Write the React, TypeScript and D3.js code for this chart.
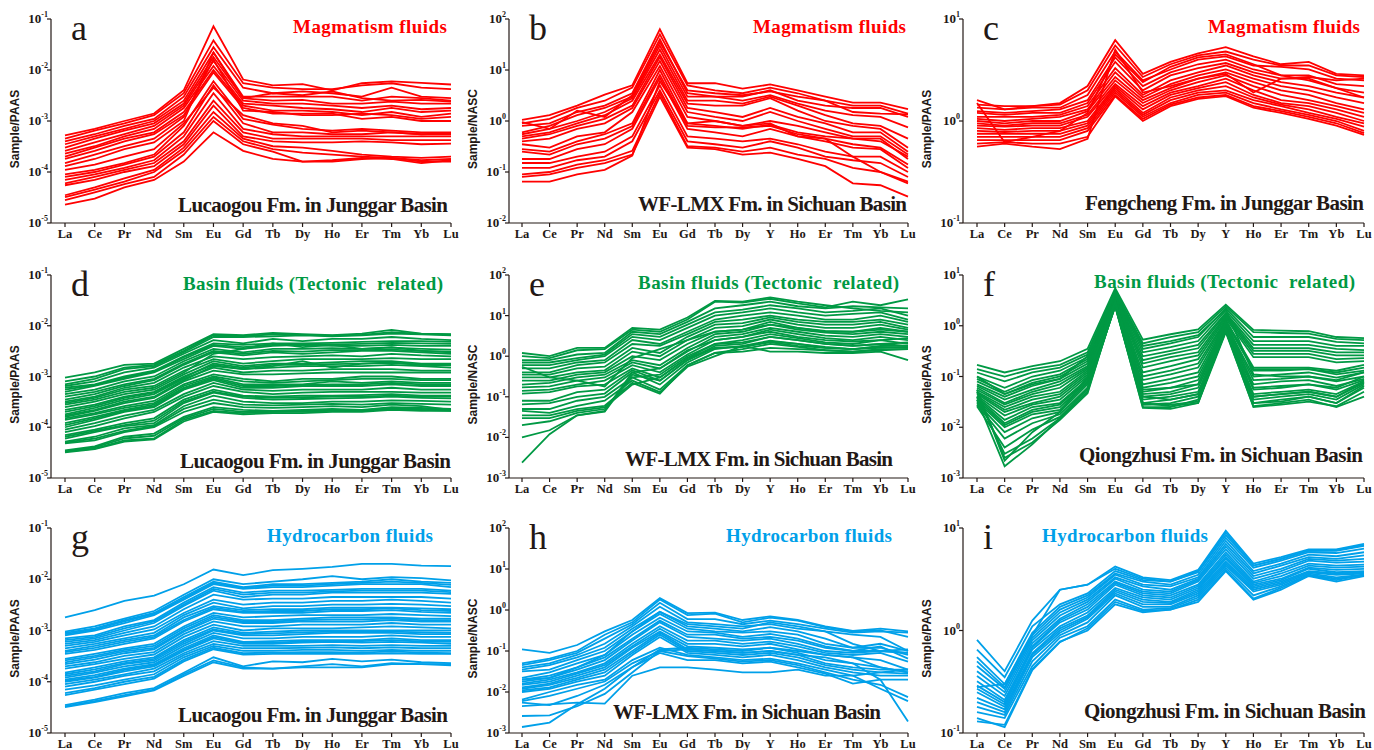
import React from 'react';
import * as d3 from 'd3';

// REE categories (with and without Y)
const REE14 = ['La', 'Ce', 'Pr', 'Nd', 'Sm', 'Eu', 'Gd', 'Tb', 'Dy', 'Ho', 'Er', 'Tm', 'Yb', 'Lu'];
const REE15 = ['La', 'Ce', 'Pr', 'Nd', 'Sm', 'Eu', 'Gd', 'Tb', 'Dy', 'Y', 'Ho', 'Er', 'Tm', 'Yb', 'Lu'];

const RED = '#ff0000';
const GREEN = '#009944';
const BLUE = '#00a0e9';
const INK = '#231815';

// a - magmatism fluids, Lucaogou Fm. (Sample/PAAS)
const magmaLucaogou = [
  [5.2e-4, 7e-4, 1e-3, 1.4e-3, 4e-3, 7.2e-2, 6.5e-3, 5e-3, 5.3e-3, 4e-3, 5.5e-3, 6e-3, 5.6e-3, 5.2e-3],
  [4.5e-4, 6.5e-4, 9e-4, 1.3e-3, 3.5e-3, 3.8e-2, 5.5e-3, 4.5e-3, 4.2e-3, 4.2e-3, 5e-3, 5.5e-3, 4.5e-3, 4.2e-3],
  [4e-4, 5.5e-4, 8e-4, 1.1e-3, 3e-3, 2.8e-2, 4.5e-3, 3.5e-3, 3.8e-3, 3.5e-3, 3e-3, 4.5e-3, 3e-3, 2.8e-3],
  [3.5e-4, 5e-4, 7e-4, 1e-3, 2.5e-3, 2.2e-2, 3e-3, 3e-3, 3e-3, 3e-3, 2.5e-3, 3e-3, 2.8e-3, 2.5e-3],
  [3e-4, 4.5e-4, 6.5e-4, 9e-4, 2.2e-3, 1.8e-2, 2.8e-3, 2.5e-3, 2.6e-3, 2.2e-3, 2.2e-3, 2.4e-3, 2.2e-3, 2.2e-3],
  [2.6e-4, 3.8e-4, 5.5e-4, 8e-4, 2e-3, 1.5e-2, 2.5e-3, 2.2e-3, 2.2e-3, 2e-3, 1.8e-3, 2e-3, 1.7e-3, 1.8e-3],
  [2.3e-4, 3.2e-4, 5e-4, 7e-4, 1.8e-3, 1.2e-2, 2.2e-3, 2e-3, 1.8e-3, 1.7e-3, 1.5e-3, 1.8e-3, 1.5e-3, 1.6e-3],
  [2e-4, 3e-4, 4.5e-4, 6e-4, 1.5e-3, 1e-2, 2e-3, 1.6e-3, 1.6e-3, 1.5e-3, 1.3e-3, 1.5e-3, 1.2e-3, 1.4e-3],
  [1.8e-4, 2.6e-4, 4e-4, 5.5e-4, 1.3e-3, 9e-3, 1.8e-3, 1.4e-3, 1.4e-3, 1.4e-3, 1.1e-3, 1.2e-3, 1e-3, 1e-3],
  [1.5e-4, 2.2e-4, 3.2e-4, 4.5e-4, 1.2e-3, 1.6e-2, 1.6e-3, 1.5e-3, 1.3e-3, 1.3e-3, 1.4e-3, 1.3e-3, 1.1e-3, 1.2e-3],
  [1.3e-4, 1.8e-4, 2.8e-4, 3.8e-4, 1e-3, 2.2e-2, 2.8e-3, 3.5e-3, 3.2e-3, 3.8e-3, 2.8e-3, 2.5e-3, 2.6e-3, 2.4e-3],
  [9e-5, 1.1e-4, 1.5e-4, 2.2e-4, 8e-4, 6e-3, 1.1e-3, 8.5e-4, 7e-4, 6.5e-4, 7e-4, 6.5e-4, 6e-4, 6e-4],
  [8e-5, 1e-4, 1.4e-4, 2e-4, 6e-4, 5e-3, 9e-4, 6e-4, 6e-4, 5.5e-4, 5.5e-4, 6e-4, 5.5e-4, 5.5e-4],
  [7e-5, 9e-5, 1.2e-4, 1.7e-4, 5e-4, 3.5e-3, 7e-4, 5.5e-4, 5e-4, 5e-4, 5e-4, 5e-4, 5e-4, 5e-4],
  [6e-5, 8e-5, 1.1e-4, 1.5e-4, 4e-4, 2.5e-3, 6e-4, 4.5e-4, 4.5e-4, 4.5e-4, 4.5e-4, 4.2e-4, 4.2e-4, 4.2e-4],
  [5.5e-5, 7e-5, 1e-4, 1.3e-4, 3.5e-4, 2e-3, 5e-4, 4e-4, 3.8e-4, 3.8e-4, 4e-4, 3.8e-4, 3.5e-4, 3.6e-4],
  [3.5e-5, 5e-5, 7.5e-5, 1.1e-4, 3e-4, 1.5e-3, 4.5e-4, 3.2e-4, 3e-4, 2.6e-4, 2.2e-4, 2e-4, 1.9e-4, 2e-4],
  [3.2e-5, 4.5e-5, 6.5e-5, 1e-4, 2.6e-4, 1.2e-3, 4e-4, 2.8e-4, 2.4e-4, 2.2e-4, 2e-4, 1.9e-4, 1.7e-4, 1.8e-4],
  [2.8e-5, 4e-5, 5.8e-5, 8e-5, 2.2e-4, 1e-3, 3.5e-4, 2.5e-4, 1.6e-4, 1.7e-4, 1.9e-4, 1.8e-4, 1.5e-4, 1.7e-4],
  [2.3e-5, 3e-5, 5e-5, 7e-5, 1.6e-4, 6e-4, 2.6e-4, 1.8e-4, 1.6e-4, 1.6e-4, 1.8e-4, 1.9e-4, 1.6e-4, 1.6e-4],
  [1.1e-4, 1.4e-4, 2e-4, 2.8e-4, 9e-4, 4.5e-3, 1.3e-3, 9e-4, 8e-4, 6e-4, 6.5e-4, 6e-4, 5.5e-4, 5.8e-4],
];

// b - magmatism fluids, WF-LMX Fm. (Sample/NASC)
const magmaWfLmx = [
  [1.05, 1.3, 2, 3.3, 5, 63, 5.5, 5.5, 4.3, 5.2, 4, 3, 2.3, 2.3, 1.7],
  [0.9, 1.1, 1.8, 2.5, 4.5, 50, 5, 4, 3.5, 4.5, 3.5, 2.5, 2, 2, 1.4],
  [0.8, 0.9, 1.5, 2, 3.5, 40, 3.5, 3, 3, 4, 2.5, 2, 1.8, 1.8, 1.2],
  [0.6, 0.8, 1.3, 1.8, 3, 30, 3, 3, 2.5, 3.2, 2.2, 1.6, 1.3, 1.2, 0.75],
  [0.55, 0.7, 1, 1.5, 2.8, 25, 2.5, 2.5, 2.2, 3, 2, 1.3, 0.9, 0.8, 0.45],
  [0.5, 0.6, 0.9, 1.3, 2.5, 20, 2.2, 2, 2, 2.8, 1.6, 1, 0.8, 0.7, 0.3],
  [0.45, 0.55, 0.8, 1.1, 2, 18, 1.8, 1.5, 1.2, 1.8, 1.2, 0.9, 0.6, 0.6, 0.25],
  [0.4, 0.45, 0.7, 0.9, 1.8, 15, 1.5, 1.2, 1, 1.5, 1, 0.7, 0.5, 0.5, 0.22],
  [0.35, 0.3, 0.5, 0.6, 1.5, 12, 1.2, 1, 0.8, 1, 0.8, 0.6, 0.45, 0.4, 0.2],
  [0.28, 0.25, 0.4, 0.55, 0.9, 10, 0.9, 0.8, 0.7, 0.85, 0.6, 0.5, 0.45, 0.45, 0.18],
  [0.25, 0.22, 0.35, 0.45, 0.8, 8, 0.8, 0.75, 0.75, 0.8, 0.55, 0.45, 0.35, 0.3, 0.14],
  [0.18, 0.18, 0.28, 0.35, 0.7, 7, 0.7, 0.6, 0.5, 0.7, 0.5, 0.4, 0.3, 0.28, 0.12],
  [0.15, 0.15, 0.2, 0.25, 0.5, 5, 0.5, 0.45, 0.4, 0.45, 0.35, 0.25, 0.2, 0.2, 0.1],
  [0.12, 0.12, 0.17, 0.2, 0.4, 4, 0.4, 0.35, 0.3, 0.4, 0.3, 0.2, 0.17, 0.15, 0.08],
  [0.09, 0.1, 0.14, 0.17, 0.26, 3.5, 0.32, 0.3, 0.25, 0.3, 0.22, 0.18, 0.12, 0.1, 0.065],
  [0.08, 0.09, 0.12, 0.15, 0.22, 3, 0.3, 0.28, 0.22, 0.24, 0.18, 0.13, 0.06, 0.055, 0.033],
  [0.065, 0.065, 0.09, 0.11, 0.21, 6, 0.9, 1, 0.8, 0.9, 0.5, 0.45, 0.2, 0.1, 0.06],
  [0.95, 0.7, 1.6, 1.2, 3.2, 35, 4, 3.5, 3.2, 3.8, 3, 2.5, 1.5, 1.4, 1.35],
];

// c - magmatism fluids, Fengcheng Fm. (Sample/PAAS)
const magmaFengcheng = [
  [1.6, 1.3, 1.4, 1.5, 2.2, 6.2, 2.9, 3.8, 4.6, 5.3, 4.3, 3.6, 3.8, 2.9, 2.8],
  [1.45, 1.4, 1.4, 1.45, 2, 5.5, 2.7, 3.6, 4.4, 4.8, 4, 3.5, 3.5, 2.8, 2.7],
  [1.35, 1.3, 1.35, 1.35, 1.8, 4.8, 2.5, 3.2, 4, 4.3, 3.5, 3.4, 3.2, 2.6, 2.5],
  [1.25, 1.2, 1.25, 1.3, 1.6, 4.2, 2.2, 3, 3.6, 4, 3.2, 2.8, 2.8, 2.3, 2.2],
  [1.2, 1.15, 1.2, 1.2, 1.5, 3.8, 2, 2.8, 3.3, 3.7, 3, 2.6, 2.6, 2.1, 1.9],
  [1.1, 1.1, 1.1, 1.15, 1.4, 3.3, 1.8, 2.5, 3, 3.5, 2.8, 2.4, 2.2, 1.9, 1.7],
  [1.05, 1, 1.05, 1.1, 1.3, 3, 1.7, 2.3, 2.8, 3.2, 2.6, 2.2, 2, 1.7, 1.5],
  [1, 0.95, 1, 1, 1.25, 2.7, 1.6, 2.1, 2.6, 3, 2.4, 2, 1.8, 1.5, 1.3],
  [0.95, 0.9, 0.95, 0.95, 1.15, 2.5, 1.5, 2, 2.4, 2.8, 2.2, 1.8, 1.6, 1.4, 1.2],
  [0.9, 0.88, 0.9, 0.9, 1.1, 2.3, 1.4, 1.9, 2.2, 2.6, 2, 1.6, 1.5, 1.3, 1.1],
  [0.85, 0.82, 0.85, 0.85, 1, 2.2, 1.3, 1.8, 2.1, 2.4, 1.8, 1.5, 1.4, 1.2, 1],
  [0.8, 0.78, 0.8, 0.8, 0.95, 2.1, 1.2, 1.7, 2, 2.2, 1.7, 1.45, 1.3, 1.1, 0.95],
  [0.75, 0.75, 0.75, 0.75, 0.9, 2, 1.15, 1.6, 1.9, 2, 1.6, 1.4, 1.2, 1.05, 0.88],
  [0.7, 0.7, 0.7, 0.7, 0.85, 1.9, 1.1, 1.5, 1.8, 1.9, 1.5, 1.3, 1.15, 1, 0.8],
  [0.65, 0.65, 0.65, 0.65, 0.8, 1.8, 1.05, 1.45, 1.7, 1.8, 1.4, 1.25, 1.1, 0.95, 0.76],
  [0.6, 0.62, 0.6, 0.6, 0.7, 1.75, 1.0, 1.4, 1.65, 1.75, 1.35, 1.2, 1.05, 0.9, 0.73],
  [0.56, 0.6, 0.56, 0.53, 0.67, 5, 1.9, 2.2, 2.6, 2.9, 1.9, 2.6, 2.7, 2.5, 2.6],
  [1.5, 0.62, 0.7, 0.8, 1.2, 4.5, 2.4, 3.4, 4.2, 4.5, 3.6, 2.8, 2.5, 2.1, 1.7],
];

// d - basin fluids, Lucaogou Fm. (Sample/PAAS)
const basinLucaogou = [
  [9.5e-4, 1.2e-3, 1.7e-3, 1.8e-3, 3.5e-3, 6.8e-3, 6.5e-3, 7.2e-3, 6.8e-3, 6.5e-3, 7e-3, 8.3e-3, 7e-3, 6.8e-3],
  [8e-4, 1e-3, 1.5e-3, 1.7e-3, 3.2e-3, 6.5e-3, 6.2e-3, 6.8e-3, 6.6e-3, 6.4e-3, 6.6e-3, 7.5e-3, 6.9e-3, 6.7e-3],
  [7e-4, 9e-4, 1.4e-3, 1.6e-3, 3e-3, 6e-3, 6e-3, 6.2e-3, 6.5e-3, 6.2e-3, 6.5e-3, 7e-3, 6.8e-3, 6.5e-3],
  [6.5e-4, 8e-4, 1.2e-3, 1.5e-3, 2.8e-3, 5.2e-3, 4.5e-3, 5.5e-3, 5e-3, 5.5e-3, 5.5e-3, 6e-3, 5.5e-3, 5.2e-3],
  [6e-4, 7e-4, 1e-3, 1.3e-3, 2.5e-3, 4.5e-3, 4.2e-3, 4.5e-3, 4.5e-3, 4.6e-3, 4.8e-3, 5e-3, 5e-3, 4.8e-3],
  [5.5e-4, 6.8e-4, 9.5e-4, 1.25e-3, 2.4e-3, 4.2e-3, 3.8e-3, 4.2e-3, 4.3e-3, 4.3e-3, 4.4e-3, 4.6e-3, 4.5e-3, 4.4e-3],
  [5e-4, 6.5e-4, 9e-4, 1.2e-3, 2.2e-3, 4e-3, 3.5e-3, 4e-3, 4.2e-3, 4e-3, 4e-3, 4.2e-3, 4e-3, 4e-3],
  [4.5e-4, 5.5e-4, 8e-4, 1e-3, 2e-3, 3.5e-3, 3e-3, 3.5e-3, 3.5e-3, 3.6e-3, 3.5e-3, 3.7e-3, 3.5e-3, 3.4e-3],
  [4e-4, 5e-4, 7e-4, 9e-4, 1.8e-3, 3.2e-3, 2.8e-3, 3.2e-3, 3.1e-3, 3.3e-3, 3.3e-3, 3.4e-3, 3.2e-3, 3.1e-3],
  [3.5e-4, 4.5e-4, 6.5e-4, 8.5e-4, 1.7e-3, 3e-3, 2.6e-3, 3e-3, 2.8e-3, 3e-3, 3.2e-3, 3.2e-3, 3e-3, 2.8e-3],
  [3.2e-4, 4e-4, 6e-4, 7.5e-4, 1.5e-3, 2.5e-3, 2.2e-3, 2.4e-3, 2.5e-3, 2.6e-3, 2.5e-3, 2.8e-3, 2.6e-3, 2.5e-3],
  [3e-4, 3.8e-4, 5.5e-4, 6.5e-4, 1.3e-3, 2.2e-3, 1.8e-3, 2e-3, 2.2e-3, 2.2e-3, 2.2e-3, 2.3e-3, 2.2e-3, 2.2e-3],
  [2.5e-4, 3.2e-4, 4.5e-4, 5.5e-4, 1.1e-3, 2e-3, 1.6e-3, 1.8e-3, 1.8e-3, 1.9e-3, 2e-3, 2e-3, 1.8e-3, 1.8e-3],
  [2.2e-4, 2.8e-4, 4e-4, 5e-4, 1e-3, 1.7e-3, 1.4e-3, 1.5e-3, 1.6e-3, 1.6e-3, 1.6e-3, 1.7e-3, 1.6e-3, 1.5e-3],
  [2e-4, 2.6e-4, 3.8e-4, 4.8e-4, 9.5e-4, 1.8e-3, 1.5e-3, 1.7e-3, 1.7e-3, 1.75e-3, 1.8e-3, 1.85e-3, 1.7e-3, 1.65e-3],
  [1.8e-4, 2.4e-4, 3.5e-4, 4.5e-4, 9e-4, 1.5e-3, 1.2e-3, 1.3e-3, 1.3e-3, 1.4e-3, 1.4e-3, 1.4e-3, 1.3e-3, 1.3e-3],
  [1.6e-4, 2.1e-4, 3e-4, 3.8e-4, 8e-4, 1.3e-3, 1.1e-3, 1.1e-3, 1.15e-3, 1.2e-3, 1.2e-3, 1.2e-3, 1.2e-3, 1.2e-3],
  [1.5e-4, 1.9e-4, 2.6e-4, 3.3e-4, 7e-4, 1.1e-3, 9e-4, 8e-4, 9e-4, 9e-4, 1e-3, 1e-3, 9e-4, 9e-4],
  [1.4e-4, 1.8e-4, 2.4e-4, 3e-4, 6.5e-4, 1e-3, 8e-4, 7.5e-4, 8e-4, 8.5e-4, 9e-4, 9e-4, 8.5e-4, 8.5e-4],
  [1.2e-4, 1.6e-4, 2.2e-4, 2.8e-4, 6e-4, 9.5e-4, 7e-4, 7e-4, 7e-4, 8e-4, 7.5e-4, 8e-4, 7.5e-4, 7.5e-4],
  [1.1e-4, 1.5e-4, 2.1e-4, 2.6e-4, 5.8e-4, 9e-4, 6.5e-4, 6.5e-4, 6.8e-4, 7e-4, 7e-4, 7.5e-4, 7e-4, 7e-4],
  [1e-4, 1.4e-4, 2e-4, 2.5e-4, 5.5e-4, 8.5e-4, 6e-4, 6e-4, 6.5e-4, 6.5e-4, 6.5e-4, 7e-4, 6.5e-4, 6.5e-4],
  [9e-5, 1.2e-4, 1.7e-4, 2.2e-4, 4.5e-4, 7.5e-4, 5.5e-4, 5.2e-4, 5.5e-4, 5.5e-4, 5.5e-4, 6e-4, 5.5e-4, 5.5e-4],
  [8e-5, 1.05e-4, 1.5e-4, 2e-4, 4e-4, 6.5e-4, 5e-4, 4.5e-4, 4.8e-4, 5e-4, 5e-4, 5e-4, 4.8e-4, 4.8e-4],
  [7e-5, 9e-5, 1.2e-4, 1.5e-4, 3.5e-4, 5.5e-4, 4.2e-4, 4e-4, 4.2e-4, 4.2e-4, 4.3e-4, 4.5e-4, 4.2e-4, 4.2e-4],
  [6.5e-5, 8.5e-5, 1.1e-4, 1.35e-4, 3.2e-4, 5e-4, 4e-4, 3.8e-4, 3.9e-4, 4e-4, 4e-4, 4.2e-4, 4e-4, 4e-4],
  [6e-5, 8e-5, 1.05e-4, 1.2e-4, 3e-4, 4.8e-4, 3.8e-4, 3.5e-4, 3.6e-4, 3.7e-4, 3.8e-4, 4e-4, 3.8e-4, 3.7e-4],
  [5.2e-5, 6.5e-5, 9.5e-5, 1.1e-4, 2.6e-4, 4.2e-4, 3.2e-4, 3e-4, 3e-4, 3.2e-4, 3.2e-4, 3.4e-4, 3.3e-4, 3.2e-4],
  [5e-5, 6e-5, 8.5e-5, 1.05e-4, 2.3e-4, 3.5e-4, 2.8e-4, 2.7e-4, 2.8e-4, 2.9e-4, 2.8e-4, 3e-4, 2.9e-4, 2.8e-4],
  [4.8e-5, 5.5e-5, 8e-5, 1e-4, 2e-4, 3e-4, 2.5e-4, 2.4e-4, 2.5e-4, 2.6e-4, 2.5e-4, 2.8e-4, 2.6e-4, 2.2e-4],
  [3.5e-5, 4.2e-5, 6.5e-5, 7.5e-5, 1.6e-4, 2.5e-4, 2.2e-4, 2.1e-4, 2.2e-4, 2.3e-4, 2.2e-4, 2.5e-4, 2.4e-4, 2.3e-4],
  [3.4e-5, 4e-5, 6e-5, 6.8e-5, 1.5e-4, 2.3e-4, 2e-4, 2e-4, 2.1e-4, 2.2e-4, 2.15e-4, 2.4e-4, 2.3e-4, 2.2e-4],
  [3.3e-5, 3.8e-5, 5.5e-5, 6e-5, 1.4e-4, 2.1e-4, 1.9e-4, 2e-4, 2e-4, 2.1e-4, 2.1e-4, 2.3e-4, 2.2e-4, 2.1e-4],
  [3.2e-5, 3.7e-5, 5.2e-5, 5.8e-5, 1.3e-4, 2e-4, 1.8e-4, 1.9e-4, 1.9e-4, 2e-4, 2e-4, 2.2e-4, 2.1e-4, 2.1e-4],
  [2.8e-4, 3.5e-4, 5e-4, 6e-4, 1.2e-3, 2.8e-3, 3.5e-3, 4.5e-3, 3.8e-3, 4.2e-3, 3.5e-3, 3.8e-3, 3.2e-3, 3e-3],
  [1.7e-4, 2.2e-4, 3.2e-4, 4e-4, 8.5e-4, 1.6e-3, 1.4e-3, 1.6e-3, 2e-3, 1.5e-3, 1.8e-3, 1.9e-3, 1.7e-3, 1.7e-3],
];

// e - basin fluids, WF-LMX Fm. (Sample/NASC)
const basinWfLmx = [
  [1.2, 1.0, 1.6, 1.6, 5, 4.5, 9, 23, 22, 28, 22, 18, 15, 13, 12],
  [1, 0.9, 1.4, 1.5, 4.5, 4, 8, 22, 21, 26, 20, 16, 22, 18, 25],
  [0.8, 0.8, 1.1, 1.2, 4, 3.5, 7, 15, 18, 22, 17, 15, 17, 16, 15],
  [0.7, 0.7, 0.9, 1.1, 3.5, 3, 6, 12, 14, 18, 15, 12, 13, 15, 10],
  [0.6, 0.6, 0.8, 1, 3, 2.5, 5, 10, 12, 15, 12, 10, 11, 12, 8],
  [0.5, 0.5, 0.7, 0.8, 2.5, 2, 4, 8, 10, 12, 10, 8, 8, 10, 7],
  [0.4, 0.4, 0.6, 0.7, 2, 1.8, 3.5, 7, 8, 10, 8, 7, 7, 8, 6],
  [0.35, 0.35, 0.5, 0.55, 1.6, 1.2, 3, 6, 6.5, 9, 7, 6, 6, 7, 5],
  [0.3, 0.3, 0.4, 0.45, 1.3, 1, 2.5, 5, 5.5, 8, 6, 5, 5, 6, 4.5],
  [0.25, 0.25, 0.35, 0.4, 1, 0.8, 2, 4, 4.5, 7, 5, 4.2, 4, 5, 4],
  [0.2, 0.22, 0.3, 0.35, 0.8, 0.6, 1.6, 3.5, 4, 6, 4.5, 3.8, 3.5, 4, 3.5],
  [0.17, 0.18, 0.25, 0.3, 0.7, 0.5, 1.3, 3, 3.5, 5, 4, 3.2, 3, 3.5, 3],
  [0.14, 0.15, 0.2, 0.25, 0.6, 0.4, 1.1, 2.5, 3, 4.5, 3.5, 2.8, 2.5, 3, 2.5],
  [0.12, 0.13, 0.18, 0.2, 0.5, 0.3, 0.9, 2, 2.5, 3.5, 2.8, 2.2, 2, 2.5, 2],
  [0.08, 0.08, 0.13, 0.15, 0.45, 0.25, 0.8, 1.8, 2, 3, 2.5, 2, 1.8, 2, 1.8],
  [0.065, 0.07, 0.1, 0.12, 0.4, 0.2, 0.7, 1.5, 1.8, 2.4, 2, 1.6, 1.5, 1.7, 1.6],
  [0.05, 0.05, 0.08, 0.1, 0.3, 0.15, 0.6, 1.2, 1.5, 2, 1.7, 1.4, 1.3, 1.5, 1.5],
  [0.045, 0.04, 0.06, 0.08, 0.25, 0.13, 0.55, 1, 1.8, 1.3, 1.3, 1.2, 1.2, 1.3, 0.8],
  [0.035, 0.035, 0.05, 0.06, 0.22, 0.12, 0.6, 1.2, 1.3, 1.6, 1.5, 1.4, 1.3, 1.4, 1.5],
  [0.03, 0.03, 0.045, 0.055, 0.2, 0.3, 0.9, 1.6, 1.7, 2.2, 1.8, 1.6, 1.5, 1.6, 1.7],
  [0.02, 0.025, 0.04, 0.05, 0.3, 0.35, 1, 2, 2.2, 3, 2.5, 2, 1.8, 2, 2.2],
  [0.01, 0.015, 0.035, 0.045, 0.4, 0.5, 1.4, 2.5, 3, 4, 3, 2.5, 2.3, 2.5, 2.8],
  [0.0024, 0.012, 0.035, 0.043, 0.35, 0.25, 0.8, 1.6, 1.7, 2.3, 2, 1.7, 1.5, 1.8, 1.8],
  [0.55, 0.3, 0.25, 0.18, 0.9, 1.5, 2.5, 4, 4.5, 6, 5, 4, 4, 4.5, 4],
];

// f - basin fluids, Qiongzhusi Fm. (Sample/PAAS)
const basinQiongzhusi = [
  [0.17, 0.12, 0.16, 0.2, 0.35, 5.5, 0.53, 0.68, 0.85, 2.6, 0.83, 0.8, 0.78, 0.6, 0.57],
  [0.14, 0.1, 0.14, 0.17, 0.3, 5, 0.45, 0.6, 0.75, 2.4, 0.75, 0.72, 0.7, 0.55, 0.52],
  [0.12, 0.08, 0.12, 0.15, 0.27, 4.8, 0.35, 0.45, 0.6, 2.2, 0.6, 0.6, 0.6, 0.48, 0.45],
  [0.1, 0.06, 0.1, 0.13, 0.24, 4.5, 0.3, 0.38, 0.5, 2, 0.5, 0.5, 0.5, 0.4, 0.4],
  [0.09, 0.05, 0.085, 0.11, 0.22, 4.3, 0.25, 0.32, 0.42, 1.8, 0.42, 0.42, 0.42, 0.35, 0.33],
  [0.08, 0.045, 0.075, 0.1, 0.2, 4, 0.21, 0.28, 0.36, 1.7, 0.36, 0.36, 0.36, 0.3, 0.3],
  [0.07, 0.04, 0.065, 0.09, 0.18, 3.8, 0.18, 0.24, 0.3, 1.6, 0.32, 0.32, 0.32, 0.26, 0.26],
  [0.065, 0.035, 0.055, 0.08, 0.16, 3.6, 0.15, 0.2, 0.26, 1.5, 0.28, 0.28, 0.28, 0.22, 0.23],
  [0.06, 0.03, 0.05, 0.07, 0.15, 3.4, 0.12, 0.16, 0.22, 1.4, 0.24, 0.24, 0.24, 0.19, 0.2],
  [0.055, 0.028, 0.045, 0.06, 0.14, 3.2, 0.1, 0.13, 0.18, 1.3, 0.15, 0.15, 0.15, 0.13, 0.17],
  [0.05, 0.025, 0.04, 0.05, 0.13, 3.1, 0.085, 0.11, 0.15, 1.25, 0.14, 0.14, 0.14, 0.12, 0.15],
  [0.048, 0.022, 0.035, 0.045, 0.12, 3, 0.07, 0.09, 0.12, 1.2, 0.13, 0.13, 0.14, 0.11, 0.13],
  [0.045, 0.02, 0.03, 0.04, 0.11, 2.9, 0.06, 0.075, 0.1, 1.1, 0.1, 0.11, 0.12, 0.095, 0.12],
  [0.042, 0.017, 0.028, 0.035, 0.1, 2.8, 0.05, 0.06, 0.085, 1.05, 0.085, 0.09, 0.1, 0.08, 0.1],
  [0.04, 0.014, 0.025, 0.03, 0.09, 2.7, 0.045, 0.05, 0.07, 1, 0.07, 0.08, 0.085, 0.065, 0.09],
  [0.038, 0.012, 0.022, 0.028, 0.085, 2.6, 0.04, 0.045, 0.06, 0.95, 0.055, 0.06, 0.07, 0.055, 0.085],
  [0.035, 0.011, 0.02, 0.025, 0.08, 2.5, 0.035, 0.04, 0.05, 0.9, 0.045, 0.05, 0.055, 0.045, 0.08],
  [0.032, 0.01, 0.018, 0.022, 0.075, 2.45, 0.03, 0.035, 0.045, 0.85, 0.04, 0.045, 0.05, 0.04, 0.075],
  [0.03, 0.008, 0.015, 0.02, 0.07, 2.4, 0.028, 0.03, 0.04, 0.8, 0.035, 0.04, 0.045, 0.035, 0.07],
  [0.028, 0.006, 0.012, 0.018, 0.06, 2.4, 0.025, 0.025, 0.035, 0.78, 0.03, 0.035, 0.04, 0.03, 0.06],
  [0.026, 0.004, 0.009, 0.016, 0.055, 2.5, 0.024, 0.023, 0.03, 0.75, 0.026, 0.03, 0.035, 0.025, 0.04],
  [0.04, 0.003, 0.006, 0.015, 0.05, 2.6, 0.028, 0.028, 0.032, 0.8, 0.025, 0.028, 0.032, 0.026, 0.05],
  [0.05, 0.0025, 0.005, 0.014, 0.047, 2.7, 0.03, 0.026, 0.03, 0.9, 0.03, 0.032, 0.04, 0.03, 0.065],
  [0.035, 0.0017, 0.0046, 0.015, 0.06, 2.8, 0.04, 0.035, 0.045, 1.1, 0.04, 0.045, 0.05, 0.04, 0.08],
  [0.055, 0.0022, 0.008, 0.02, 0.1, 3, 0.055, 0.06, 0.07, 1.2, 0.06, 0.065, 0.07, 0.06, 0.1],
  [0.1, 0.045, 0.07, 0.09, 0.25, 4.6, 0.4, 0.5, 0.65, 2.1, 0.11, 0.1, 0.1, 0.085, 0.12],
];

// g - hydrocarbon fluids, Lucaogou Fm. (Sample/PAAS)
const hcLucaogou = [
  [1.8e-3, 2.5e-3, 3.8e-3, 4.8e-3, 8e-3, 1.55e-2, 1.2e-2, 1.5e-2, 1.6e-2, 1.75e-2, 2e-2, 2e-2, 1.85e-2, 1.8e-2],
  [9.5e-4, 1.2e-3, 1.7e-3, 2.4e-3, 5e-3, 1e-2, 8e-3, 9e-3, 1e-2, 1.15e-2, 1e-2, 1.1e-2, 1.05e-2, 9.5e-3],
  [9e-4, 1.1e-3, 1.6e-3, 2.2e-3, 4.5e-3, 9e-3, 7e-3, 8e-3, 8e-3, 8.5e-3, 9e-3, 1e-2, 9e-3, 8.5e-3],
  [8.5e-4, 1.05e-3, 1.5e-3, 2.1e-3, 4.2e-3, 8.5e-3, 6.8e-3, 7.5e-3, 7.5e-3, 8e-3, 8.5e-3, 9e-3, 8.5e-3, 7.8e-3],
  [8e-4, 1e-3, 1.4e-3, 2e-3, 4e-3, 8e-3, 6.5e-3, 7e-3, 7e-3, 7.5e-3, 8e-3, 8e-3, 8e-3, 7e-3],
  [7e-4, 8e-4, 1.2e-3, 1.6e-3, 3.5e-3, 7e-3, 5.5e-3, 6e-3, 6e-3, 6.2e-3, 6.5e-3, 6.5e-3, 6.5e-3, 6e-3],
  [6.5e-4, 7.5e-4, 1.1e-3, 1.5e-3, 3.2e-3, 6.5e-3, 5e-3, 5.5e-3, 5.5e-3, 5.8e-3, 6e-3, 6e-3, 6e-3, 5.6e-3],
  [6e-4, 7e-4, 1e-3, 1.4e-3, 3e-3, 6e-3, 4.5e-3, 5e-3, 5e-3, 5.5e-3, 5.5e-3, 5.5e-3, 5.5e-3, 5.2e-3],
  [5.5e-4, 6.5e-4, 9e-4, 1.2e-3, 2.6e-3, 5e-3, 4e-3, 4.2e-3, 4.2e-3, 4.5e-3, 4.5e-3, 4.5e-3, 4.5e-3, 4.2e-3],
  [5e-4, 6e-4, 8e-4, 1.05e-3, 2.2e-3, 4e-3, 3.2e-3, 3.5e-3, 3.5e-3, 3.8e-3, 3.8e-3, 4e-3, 3.8e-3, 3.5e-3],
  [4.5e-4, 5.5e-4, 7e-4, 9e-4, 2e-3, 3.5e-3, 2.7e-3, 3e-3, 3e-3, 3.2e-3, 3.2e-3, 3.3e-3, 3.2e-3, 3e-3],
  [4e-4, 5e-4, 6.5e-4, 8e-4, 1.8e-3, 3e-3, 2.5e-3, 2.6e-3, 2.6e-3, 2.8e-3, 2.8e-3, 2.8e-3, 2.7e-3, 2.6e-3],
  [3.8e-4, 4.6e-4, 6e-4, 7.5e-4, 1.6e-3, 2.8e-3, 2.3e-3, 2.4e-3, 2.4e-3, 2.6e-3, 2.6e-3, 2.7e-3, 2.5e-3, 2.4e-3],
  [3.5e-4, 4.2e-4, 5.5e-4, 7e-4, 1.5e-3, 2.6e-3, 2.2e-3, 2.2e-3, 2.2e-3, 2.4e-3, 2.4e-3, 2.5e-3, 2.3e-3, 2.2e-3],
  [2.8e-4, 3.5e-4, 4.5e-4, 5.5e-4, 1.2e-3, 2.2e-3, 1.8e-3, 1.9e-3, 2e-3, 2e-3, 2e-3, 2.1e-3, 2e-3, 1.9e-3],
  [2.6e-4, 3.2e-4, 4.2e-4, 5e-4, 1.1e-3, 2e-3, 1.6e-3, 1.6e-3, 1.7e-3, 1.8e-3, 1.8e-3, 1.8e-3, 1.7e-3, 1.7e-3],
  [2.4e-4, 3e-4, 3.9e-4, 4.6e-4, 1e-3, 1.85e-3, 1.5e-3, 1.5e-3, 1.6e-3, 1.65e-3, 1.65e-3, 1.7e-3, 1.6e-3, 1.6e-3],
  [2.2e-4, 2.7e-4, 3.6e-4, 4.3e-4, 9.5e-4, 1.7e-3, 1.4e-3, 1.4e-3, 1.5e-3, 1.5e-3, 1.5e-3, 1.6e-3, 1.5e-3, 1.5e-3],
  [2e-4, 2.4e-4, 3.2e-4, 3.8e-4, 8.5e-4, 1.5e-3, 1.2e-3, 1.2e-3, 1.3e-3, 1.3e-3, 1.3e-3, 1.4e-3, 1.3e-3, 1.3e-3],
  [1.8e-4, 2.2e-4, 2.8e-4, 3.4e-4, 7.5e-4, 1.3e-3, 1e-3, 1.1e-3, 1.1e-3, 1.1e-3, 1.15e-3, 1.2e-3, 1.15e-3, 1.1e-3],
  [1.5e-4, 1.9e-4, 2.5e-4, 3e-4, 6.5e-4, 1.15e-3, 9e-4, 9.5e-4, 1e-3, 1e-3, 1e-3, 1e-3, 1e-3, 1e-3],
  [1.4e-4, 1.75e-4, 2.3e-4, 2.8e-4, 6e-4, 1.05e-3, 8.5e-4, 8.8e-4, 9.2e-4, 9.5e-4, 9.5e-4, 9.5e-4, 9.2e-4, 9e-4],
  [1.3e-4, 1.6e-4, 2.2e-4, 2.6e-4, 5.5e-4, 1e-3, 8e-4, 8e-4, 8.5e-4, 9e-4, 9e-4, 9e-4, 8.5e-4, 8.5e-4],
  [1.2e-4, 1.5e-4, 2e-4, 2.4e-4, 5e-4, 9e-4, 7e-4, 7e-4, 7.5e-4, 7.5e-4, 7.5e-4, 8e-4, 7.5e-4, 7.5e-4],
  [1.1e-4, 1.35e-4, 1.8e-4, 2.2e-4, 4.5e-4, 8e-4, 6e-4, 6.2e-4, 6.5e-4, 6.5e-4, 6.5e-4, 7e-4, 6.5e-4, 6.5e-4],
  [1.05e-4, 1.25e-4, 1.7e-4, 2.1e-4, 4.2e-4, 7.5e-4, 5.8e-4, 5.8e-4, 6.1e-4, 6.2e-4, 6.2e-4, 6.5e-4, 6.1e-4, 6e-4],
  [1e-4, 1.2e-4, 1.6e-4, 2e-4, 4e-4, 7e-4, 5.5e-4, 5.5e-4, 5.8e-4, 6e-4, 5.8e-4, 6e-4, 5.8e-4, 5.5e-4],
  [9e-5, 1.1e-4, 1.4e-4, 1.8e-4, 3.6e-4, 6.2e-4, 5e-4, 5e-4, 5e-4, 5.2e-4, 5e-4, 5.2e-4, 5e-4, 5e-4],
  [8e-5, 1e-4, 1.3e-4, 1.6e-4, 3.3e-4, 5.5e-4, 4.5e-4, 4.5e-4, 4.6e-4, 4.7e-4, 4.5e-4, 4.7e-4, 4.5e-4, 4.5e-4],
  [7e-5, 8.5e-5, 1.1e-4, 1.4e-4, 3e-4, 5e-4, 4e-4, 4e-4, 4.2e-4, 4.2e-4, 4e-4, 4.2e-4, 4e-4, 4e-4],
  [6e-5, 7.5e-5, 1e-4, 1.25e-4, 2.7e-4, 4.6e-4, 3.6e-4, 3.7e-4, 3.8e-4, 3.8e-4, 3.7e-4, 3.9e-4, 3.7e-4, 3.6e-4],
  [5.5e-5, 7e-5, 9e-5, 1.15e-4, 2.5e-4, 4.3e-4, 3.4e-4, 3.5e-4, 3.5e-4, 3.5e-4, 3.5e-4, 3.6e-4, 3.5e-4, 3.5e-4],
  [3.5e-5, 4.5e-5, 6e-5, 7.5e-5, 1.5e-4, 3e-4, 2e-4, 2.5e-4, 2.4e-4, 2.8e-4, 2.5e-4, 2.7e-4, 2.4e-4, 2.3e-4],
  [3.3e-5, 4.2e-5, 5.5e-5, 7e-5, 1.4e-4, 2.6e-4, 1.9e-4, 1.8e-4, 1.9e-4, 1.9e-4, 1.9e-4, 2.2e-4, 2.2e-4, 2.1e-4],
  [3.2e-5, 4e-5, 5.2e-5, 6.8e-5, 1.3e-4, 2.4e-4, 1.8e-4, 1.8e-4, 2e-4, 2.2e-4, 2e-4, 2.3e-4, 2.2e-4, 2.2e-4],
];

// h - hydrocarbon fluids, WF-LMX Fm. (Sample/NASC)
const hcWfLmx = [
  [0.11, 0.09, 0.14, 0.3, 0.57, 1.95, 0.84, 0.86, 0.57, 0.7, 0.57, 0.4, 0.31, 0.35, 0.3],
  [0.05, 0.065, 0.1, 0.25, 0.5, 1.8, 0.75, 0.82, 0.5, 0.65, 0.55, 0.38, 0.3, 0.32, 0.22],
  [0.045, 0.06, 0.09, 0.2, 0.45, 1.5, 0.6, 0.6, 0.45, 0.55, 0.45, 0.35, 0.28, 0.3, 0.28],
  [0.04, 0.05, 0.08, 0.15, 0.4, 1.2, 0.5, 0.45, 0.4, 0.45, 0.35, 0.3, 0.15, 0.1, 0.09],
  [0.035, 0.045, 0.07, 0.12, 0.35, 0.9, 0.4, 0.35, 0.3, 0.38, 0.3, 0.2, 0.12, 0.15, 0.1],
  [0.032, 0.035, 0.06, 0.1, 0.3, 0.8, 0.35, 0.3, 0.28, 0.3, 0.25, 0.15, 0.12, 0.12, 0.08],
  [0.022, 0.03, 0.05, 0.08, 0.25, 0.65, 0.3, 0.28, 0.22, 0.26, 0.2, 0.13, 0.1, 0.1, 0.11],
  [0.02, 0.025, 0.04, 0.07, 0.2, 0.55, 0.25, 0.25, 0.2, 0.22, 0.18, 0.12, 0.1, 0.13, 0.065],
  [0.018, 0.022, 0.035, 0.06, 0.18, 0.5, 0.22, 0.2, 0.18, 0.2, 0.15, 0.1, 0.09, 0.1, 0.09],
  [0.016, 0.02, 0.03, 0.05, 0.15, 0.4, 0.18, 0.18, 0.15, 0.17, 0.13, 0.09, 0.08, 0.09, 0.055],
  [0.015, 0.018, 0.028, 0.045, 0.13, 0.35, 0.15, 0.15, 0.13, 0.15, 0.11, 0.08, 0.07, 0.06, 0.035],
  [0.013, 0.016, 0.025, 0.04, 0.12, 0.3, 0.13, 0.12, 0.11, 0.12, 0.09, 0.06, 0.05, 0.04, 0.03],
  [0.012, 0.015, 0.022, 0.035, 0.1, 0.28, 0.11, 0.1, 0.09, 0.1, 0.08, 0.05, 0.04, 0.035, 0.035],
  [0.011, 0.013, 0.02, 0.03, 0.09, 0.25, 0.1, 0.09, 0.08, 0.09, 0.07, 0.045, 0.035, 0.03, 0.028],
  [0.01, 0.012, 0.018, 0.025, 0.08, 0.22, 0.09, 0.08, 0.07, 0.08, 0.06, 0.04, 0.03, 0.025, 0.025],
  [0.0065, 0.01, 0.015, 0.02, 0.06, 0.12, 0.08, 0.07, 0.06, 0.065, 0.05, 0.035, 0.025, 0.03, 0.035],
  [0.006, 0.008, 0.012, 0.018, 0.05, 0.1, 0.075, 0.065, 0.055, 0.06, 0.045, 0.03, 0.02, 0.015, 0.0075],
  [0.0055, 0.0048, 0.008, 0.015, 0.04, 0.09, 0.06, 0.06, 0.05, 0.055, 0.04, 0.028, 0.016, 0.02, 0.02],
  [0.0045, 0.005, 0.0055, 0.0052, 0.025, 0.04, 0.04, 0.035, 0.03, 0.03, 0.035, 0.025, 0.025, 0.012, 0.006],
  [0.0026, 0.0027, 0.0045, 0.009, 0.03, 0.1, 0.11, 0.1, 0.09, 0.1, 0.08, 0.07, 0.05, 0.02, 0.0019],
  [0.0014, 0.0018, 0.005, 0.012, 0.04, 0.11, 0.12, 0.11, 0.1, 0.12, 0.1, 0.08, 0.07, 0.04, 0.03],
  [0.02, 0.022, 0.04, 0.08, 0.3, 0.9, 0.45, 0.4, 0.35, 0.5, 0.4, 0.3, 0.25, 0.22, 0.1],
];

// i - hydrocarbon fluids, Qiongzhusi Fm. (Sample/PAAS)
const hcQiongzhusi = [
  [0.81, 0.4, 1.25, 2.5, 2.8, 4.2, 3.3, 3.1, 3.9, 9.4, 4.5, 5.2, 6.2, 6.2, 7],
  [0.65, 0.35, 1.1, 1.8, 2.3, 3.8, 3.1, 3, 3.7, 8.5, 4.3, 5, 6, 6, 6.7],
  [0.55, 0.3, 0.95, 1.7, 2.2, 3.6, 3, 2.8, 3.5, 8, 4.1, 4.8, 5.8, 5.7, 6.3],
  [0.5, 0.28, 0.9, 1.6, 2.1, 3.5, 2.8, 2.7, 3.3, 7.5, 3.8, 4.5, 5.5, 5.3, 5.8],
  [0.45, 0.27, 0.85, 1.5, 2, 3.3, 2.7, 2.5, 3.2, 7, 3.6, 4.3, 5.2, 5, 5.4],
  [0.4, 0.25, 0.8, 1.4, 1.9, 3.2, 2.5, 2.4, 3.1, 6.6, 3.4, 4, 5, 4.8, 5],
  [0.36, 0.23, 0.75, 1.3, 1.8, 3, 2.4, 2.3, 3, 6.2, 3.2, 3.8, 4.8, 4.6, 4.7],
  [0.32, 0.21, 0.7, 1.25, 1.7, 2.9, 2.3, 2.2, 2.8, 5.8, 3, 3.6, 4.5, 4.3, 4.4],
  [0.29, 0.2, 0.68, 1.2, 1.6, 2.8, 2.2, 2.1, 2.7, 5.5, 2.9, 3.4, 4.3, 4.1, 4.2],
  [0.27, 0.19, 0.65, 1.1, 1.5, 2.6, 2.1, 2, 2.6, 5.2, 2.8, 3.2, 4.1, 3.9, 4],
  [0.25, 0.18, 0.6, 1.05, 1.4, 2.5, 2, 1.9, 2.5, 5, 2.7, 3.1, 4, 3.7, 3.8],
  [0.22, 0.17, 0.58, 1, 1.35, 2.4, 1.9, 1.85, 2.4, 4.7, 2.6, 3, 3.8, 3.6, 3.7],
  [0.2, 0.16, 0.55, 0.95, 1.3, 2.3, 1.8, 1.8, 2.3, 4.5, 2.5, 2.9, 3.7, 3.5, 3.6],
  [0.18, 0.15, 0.5, 0.9, 1.2, 2.2, 1.7, 1.7, 2.2, 4.3, 2.4, 2.8, 3.6, 3.3, 3.5],
  [0.16, 0.14, 0.45, 0.85, 1.1, 2, 1.6, 1.65, 2.1, 4.1, 2.2, 2.7, 3.5, 3.2, 3.45],
  [0.13, 0.12, 0.42, 0.78, 1.0, 1.8, 1.5, 1.6, 1.9, 3.8, 2, 2.5, 3.4, 3, 3.4],
  [0.14, 0.114, 0.41, 0.77, 1.05, 1.9, 1.55, 1.6, 2, 3.9, 2.05, 2.6, 3.45, 3.1, 3.5],
  [0.28, 0.3, 0.9, 2.5, 2.8, 4, 3.2, 3, 3.8, 9, 4.3, 5, 6, 6.1, 6.8],
];

// panel layout (pixels) kept apart from the values
const ROWS = [
  { top: 19, bottom: 223 },
  { top: 275, bottom: 478 },
  { top: 528, bottom: 733 },
];
const COLS = [
  { axis: 51, x0: 65, x1: 451 },
  { axis: 509, x0: 522, x1: 908 },
  { axis: 963, x0: 977, x1: 1364 },
];

const panels = [
  { letter: 'a', row: 0, col: 0, cats: REE14, data: magmaLucaogou, color: RED, domain: [1e-5, 1e-1], yLabel: 'Sample/PAAS',
    title: 'Magmatism fluids', titleBox: [293, 447, 33], sub: 'Lucaogou Fm. in Junggar Basin', subBox: [178, 448, 212] },
  { letter: 'b', row: 0, col: 1, cats: REE15, data: magmaWfLmx, color: RED, domain: [1e-2, 1e2], yLabel: 'Sample/NASC',
    title: 'Magmatism fluids', titleBox: [753, 906, 33], sub: 'WF-LMX Fm. in Sichuan Basin', subBox: [638, 907, 211] },
  { letter: 'c', row: 0, col: 2, cats: REE15, data: magmaFengcheng, color: RED, domain: [1e-1, 1e1], yLabel: 'Sample/PAAS',
    title: 'Magmatism fluids', titleBox: [1208, 1360, 33], sub: 'Fengcheng Fm. in Junggar Basin', subBox: [1085, 1364, 210] },
  { letter: 'd', row: 1, col: 0, cats: REE14, data: basinLucaogou, color: GREEN, domain: [1e-5, 1e-1], yLabel: 'Sample/PAAS',
    title: 'Basin fluids (Tectonic  related)', titleBox: [183, 443, 290], sub: 'Lucaogou Fm. in Junggar Basin', subBox: [180, 451, 468] },
  { letter: 'e', row: 1, col: 1, cats: REE15, data: basinWfLmx, color: GREEN, domain: [1e-3, 1e2], yLabel: 'Sample/NASC',
    title: 'Basin fluids (Tectonic  related)', titleBox: [638, 899, 289], sub: 'WF-LMX Fm. in Sichuan Basin', subBox: [625, 893, 466] },
  { letter: 'f', row: 1, col: 2, cats: REE15, data: basinQiongzhusi, color: GREEN, domain: [1e-3, 1e1], yLabel: 'Sample/PAAS',
    title: 'Basin fluids (Tectonic  related)', titleBox: [1094, 1355, 288], sub: 'Qiongzhusi Fm. in Sichuan Basin', subBox: [1079, 1363, 462] },
  { letter: 'g', row: 2, col: 0, cats: REE14, data: hcLucaogou, color: BLUE, domain: [1e-5, 1e-1], yLabel: 'Sample/PAAS',
    title: 'Hydrocarbon fluids', titleBox: [267, 433, 542], sub: 'Lucaogou Fm. in Junggar Basin', subBox: [178, 448, 722] },
  { letter: 'h', row: 2, col: 1, cats: REE15, data: hcWfLmx, color: BLUE, domain: [1e-3, 1e2], yLabel: 'Sample/NASC',
    title: 'Hydrocarbon fluids', titleBox: [726, 892, 542], sub: 'WF-LMX Fm. in Sichuan Basin', subBox: [613, 881, 719] },
  { letter: 'i', row: 2, col: 2, cats: REE15, data: hcQiongzhusi, color: BLUE, domain: [1e-1, 1e1], yLabel: 'Sample/PAAS',
    title: 'Hydrocarbon fluids', titleBox: [1042, 1208, 542], sub: 'Qiongzhusi Fm. in Sichuan Basin', subBox: [1084, 1366, 718] },
];

const SERIF = '"Liberation Serif", "Times New Roman", serif';
const SANS = '"Liberation Sans", Arial, sans-serif';

function Panel({ p }: { p: any }) {
  const { top, bottom } = ROWS[p.row];
  const { axis, x0, x1 } = COLS[p.col];
  const x = d3.scalePoint<string>().domain(p.cats).range([x0, x1]);
  const y = d3.scaleLog().domain(p.domain).range([bottom, top]);
  const line = d3.line<number>()
    .x((_, i) => x(p.cats[i]) as number)
    .y(d => y(d));
  const e0 = Math.round(Math.log10(p.domain[0]));
  const e1 = Math.round(Math.log10(p.domain[1]));
  const exps = d3.range(e0, e1 + 1);

  return (
    <g>
      {p.data.map((row: number[], i: number) => (
        <path key={i} d={line(row) || ''} fill="none" stroke={p.color} strokeWidth={1.8} />
      ))}

      {/* y axis */}
      <line x1={axis} x2={axis} y1={top} y2={bottom} stroke={INK} strokeWidth={1.2} />
      {exps.map(e => (
        <g key={e}>
          <line x1={axis - 4} x2={axis} y1={y(10 ** e)} y2={y(10 ** e)} stroke={INK} strokeWidth={1.2} />
          <text x={axis - 3} y={y(10 ** e) + 4} textAnchor="end" fontFamily={SERIF} fontWeight="bold" fontSize={13} fill={INK}>
            <tspan>10</tspan>
            <tspan fontSize={8} dy={-6}>{e}</tspan>
          </text>
        </g>
      ))}

      {/* x axis */}
      <line x1={axis} x2={x1} y1={bottom} y2={bottom} stroke={INK} strokeWidth={1.2} />
      {p.cats.map((c: string) => (
        <g key={c}>
          <line x1={x(c)} x2={x(c)} y1={bottom} y2={bottom + 4} stroke={INK} strokeWidth={1.2} />
          <text x={x(c)} y={bottom + 15} textAnchor="middle" fontFamily={SERIF} fontWeight="bold" fontSize={12.5} fill={INK}>{c}</text>
        </g>
      ))}

      <text transform={`translate(${axis - 32},${(top + bottom) / 2 + 8}) rotate(-90)`} textAnchor="middle"
        fontFamily={SANS} fontWeight="bold" fontSize={12} fill={INK}>{p.yLabel}</text>

      <text x={axis + 20} y={top + 21} fontFamily={SERIF} fontSize={36} fill={INK}>{p.letter}</text>

      <text x={p.titleBox[0]} y={p.titleBox[2]} textLength={p.titleBox[1] - p.titleBox[0]} lengthAdjust="spacing"
        fontFamily={SERIF} fontWeight="bold" fontSize={19} fill={p.color} style={{ whiteSpace: 'pre' }}>{p.title}</text>
      <text x={p.subBox[0]} y={p.subBox[2]} textLength={p.subBox[1] - p.subBox[0]} lengthAdjust="spacing"
        fontFamily={SERIF} fontWeight="bold" fontSize={21} fill={INK}>{p.sub}</text>
    </g>
  );
}

export default function App() {
  return (
    <svg width={1374} height={750} style={{ position: 'absolute', left: 0, top: 0, background: '#fff' }}>
      {panels.map(p => <Panel key={p.letter} p={p} />)}
    </svg>
  );
}
